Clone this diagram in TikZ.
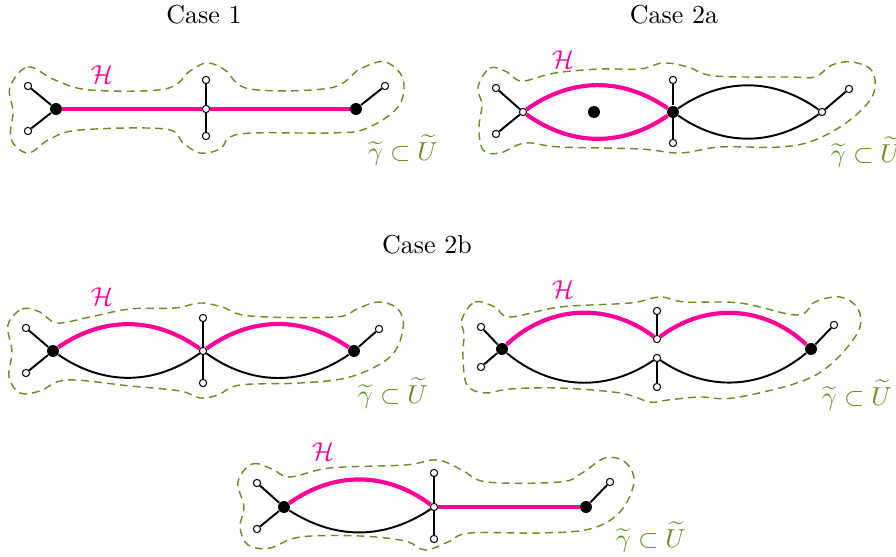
\documentclass[tikz,border=0pt]{standalone}
\usepackage{amsmath}
\usepackage{amssymb}
\usepackage{tikz}

\definecolor{hmagenta}{RGB}{255,0,153}
\definecolor{uolive}{RGB}{107,142,35}

\begin{document}
\begin{tikzpicture}[x=0.385pt,y=0.385pt,
    bdot/.style={circle,fill=black,inner sep=0pt,minimum size=4.6pt},
    wdot/.style={circle,draw=black,fill=white,line width=0.4pt,inner sep=0pt,minimum size=2.8pt},
    edge/.style={black,line width=0.75pt},
    hedge/.style={hmagenta,line width=1.6pt},
    nbhd/.style={uolive,line width=0.55pt,dash pattern=on 3pt off 2pt},
    hlabel/.style={hmagenta},
    glabel/.style={uolive}]
  \useasboundingbox (0,0) rectangle (896,557);

  % Case 1
  \node (t1) at (204,542) {Case 1};
  \draw[nbhd] plot[smooth cycle,tension=0.6] coordinates {(10,470) (28,490) (55,477) (90,467) (165,468) (190,486) (207,494) (225,487) (250,468) (330,469) (360,488) (385,495) (403,478) (398,450) (365,428) (330,424) (240,423) (220,408) (200,404) (183,414) (165,428) (80,427) (50,418) (28,404) (11,418) (13,445)};
  \node[bdot] (l1) at (56,448) {};
  \node[wdot] (lu1) at (28,471) {};
  \node[wdot] (ld1) at (28,426) {};
  \node[wdot] (m1) at (206,448) {};
  \node[wdot] (mu1) at (206,477) {};
  \node[wdot] (md1) at (206,421) {};
  \node[bdot] (r1) at (356,448) {};
  \node[wdot] (ru1) at (385,471) {};
  \draw[edge] (lu1) -- (l1) -- (ld1);
  \draw[edge] (mu1) -- (m1) -- (md1);
  \draw[edge] (r1) -- (ru1);
  \draw[hedge] (l1) -- (m1) -- (r1);
  \node[hlabel] (h1) at (102,482) {$\mathcal{H}$};
  \node[glabel] (g1) at (403,407) {$\widetilde{\gamma}\subset\widetilde{U}$};

  % Case 2a
  \node (t2) at (674,542) {Case 2a};
  \draw[nbhd] plot[smooth cycle,tension=0.6] coordinates {(478,470) (490,489) (507,485) (522,476) (555,484) (600,488) (640,488) (663,494) (688,490) (715,481) (790,480) (815,480) (832,492) (852,495) (872,486) (873,462) (850,437) (815,417) (780,410) (720,410) (680,404) (640,408) (560,410) (525,414) (500,404) (483,407) (479,430) (482,452)};
  \node[wdot] (l2) at (523,445) {};
  \node[wdot] (lu2) at (496,469) {};
  \node[wdot] (ld2) at (496,423) {};
  \node[bdot] (p2) at (594,445) {};
  \node[bdot] (m2) at (673,445) {};
  \node[wdot] (mu2) at (673,477) {};
  \node[wdot] (md2) at (673,414) {};
  \node[wdot] (r2) at (822,445) {};
  \node[wdot] (ru2) at (849,468) {};
  \draw[edge] (lu2) -- (l2) -- (ld2);
  \draw[edge] (mu2) -- (m2) -- (md2);
  \draw[edge] (r2) -- (ru2);
  \draw[hedge] (l2) to[bend left=35] (m2);
  \draw[hedge] (l2) to[bend right=35] (m2);
  \draw[edge] (m2) to[bend left=35] (r2);
  \draw[edge] (m2) to[bend right=35] (r2);
  \node[hlabel] (h2) at (563,497) {$\mathcal{H}$};
  \node[glabel] (g2) at (866,405) {$\widetilde{\gamma}\subset\widetilde{U}$};

  % Case 2b
  \node (t3) at (427,312) {Case 2b};

  % Case 2b, left
  \draw[nbhd] plot[smooth cycle,tension=0.6] coordinates {(8,232) (22,248) (40,245) (57,234) (90,240) (130,248) (175,249) (200,254) (222,250) (250,241) (335,240) (357,248) (378,255) (398,248) (403,228) (390,200) (350,180) (300,174) (240,172) (218,162) (200,159) (180,166) (130,171) (67,177) (40,166) (20,164) (9,180) (12,205)};
  \node[bdot] (l3) at (53,206) {};
  \node[wdot] (lu3) at (26,229) {};
  \node[wdot] (ld3) at (26,184) {};
  \node[wdot] (m3) at (203,206) {};
  \node[wdot] (mu3) at (203,239) {};
  \node[wdot] (md3) at (203,174) {};
  \node[bdot] (r3) at (354,206) {};
  \node[wdot] (ru3) at (379,228) {};
  \draw[edge] (lu3) -- (l3) -- (ld3);
  \draw[edge] (mu3) -- (m3) -- (md3);
  \draw[edge] (r3) -- (ru3);
  \draw[hedge] (l3) to[bend left=35] (m3);
  \draw[hedge] (m3) to[bend left=35] (r3);
  \draw[edge] (l3) to[bend right=35] (m3);
  \draw[edge] (m3) to[bend right=35] (r3);
  \node[hlabel] (h3) at (102,260) {$\mathcal{H}$};
  \node[glabel] (g3) at (393,164) {$\widetilde{\gamma}\subset\widetilde{U}$};

  % Case 2b, right
  \draw[nbhd] plot[smooth cycle,tension=0.6] coordinates {(462,238) (475,255) (495,250) (510,240) (560,250) (630,254) (660,260) (685,255) (740,254) (797,242) (815,255) (840,260) (858,248) (858,225) (830,192) (797,174) (733,159) (700,160) (668,157) (650,155) (620,164) (560,169) (510,168) (485,164) (467,172) (463,200) (464,222)};
  \node[bdot] (l4) at (502,208) {};
  \node[wdot] (lu4) at (481,230) {};
  \node[wdot] (ld4) at (481,190) {};
  \node[wdot] (mu4) at (657,218) {};
  \node[wdot] (mt4) at (657,246) {};
  \node[wdot] (md4) at (657,199) {};
  \node[wdot] (mb4) at (657,170) {};
  \node[bdot] (r4) at (811,208) {};
  \node[wdot] (ru4) at (834,232) {};
  \draw[edge] (lu4) -- (l4) -- (ld4);
  \draw[edge] (mt4) -- (mu4);
  \draw[edge] (md4) -- (mb4);
  \draw[edge] (r4) -- (ru4);
  \draw[hedge] (l4) to[bend left=40] (mu4);
  \draw[hedge] (mu4) to[bend left=40] (r4);
  \draw[edge] (l4) to[bend right=37] (md4);
  \draw[edge] (md4) to[bend right=37] (r4);
  \node[hlabel] (h4) at (563,267) {$\mathcal{H}$};
  \node[glabel] (g4) at (857,162) {$\widetilde{\gamma}\subset\widetilde{U}$};

  % Case 2b, bottom
  \draw[nbhd] plot[smooth cycle,tension=0.6] coordinates {(238,75) (252,93) (272,88) (290,80) (330,89) (405,92) (437,97) (462,87) (487,75) (560,75) (582,84) (605,99) (625,95) (634,75) (620,45) (590,28) (540,24) (470,24) (448,15) (425,7) (405,16) (360,21) (300,20) (270,9) (248,12) (240,30) (244,50)};
  \node[bdot] (l5) at (284,50) {};
  \node[wdot] (lu5) at (257,74) {};
  \node[wdot] (ld5) at (257,28) {};
  \node[wdot] (m5) at (434,50) {};
  \node[wdot] (mu5) at (434,84) {};
  \node[wdot] (md5) at (434,18) {};
  \node[bdot] (r5) at (586,50) {};
  \node[wdot] (ru5) at (610,75) {};
  \draw[edge] (lu5) -- (l5) -- (ld5);
  \draw[edge] (mu5) -- (m5) -- (md5);
  \draw[edge] (r5) -- (ru5);
  \draw[hedge] (l5) to[bend left=36] (m5);
  \draw[edge] (l5) to[bend right=33] (m5);
  \draw[hedge] (m5) -- (r5);
  \node[hlabel] (h5) at (323,105) {$\mathcal{H}$};
  \node[glabel] (g5) at (651,20) {$\widetilde{\gamma}\subset\widetilde{U}$};
\end{tikzpicture}
\end{document}
